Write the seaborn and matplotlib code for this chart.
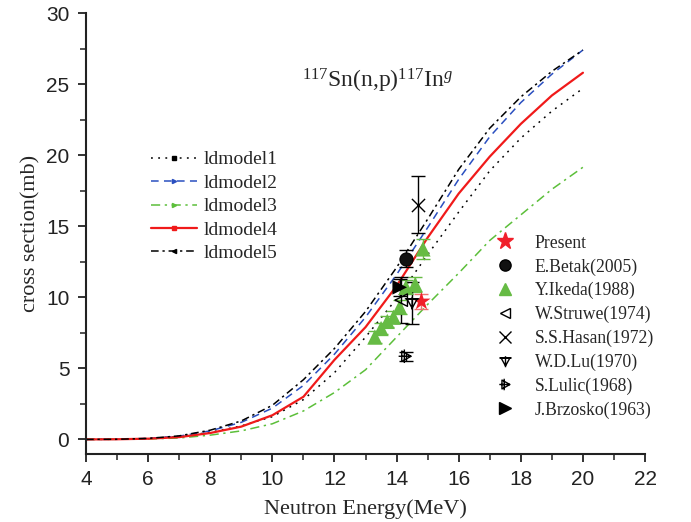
import numpy as np
import pandas as pd
import seaborn as sns
import matplotlib
matplotlib.use("Agg")
import matplotlib.pyplot as plt
from matplotlib.lines import Line2D
from matplotlib.path import Path

# ---------------- data ----------------
energy = [4, 5, 6, 7, 8, 9, 10, 11, 12, 13, 14, 15, 16, 17, 18, 19, 20]
ldmodel1 = [0, 0.01, 0.06, 0.2, 0.5, 0.95, 1.6, 2.8, 4.7, 7.2, 9.9, 13.0, 16.0, 18.9, 21.2, 23.1, 24.7]
ldmodel2 = [0, 0.01, 0.07, 0.23, 0.6, 1.2, 2.2, 3.8, 6.0, 8.6, 11.6, 14.9, 18.3, 21.3, 23.7, 25.7, 27.4]
ldmodel3 = [0, 0.01, 0.03, 0.1, 0.3, 0.6, 1.1, 2.0, 3.3, 4.9, 7.2, 9.5, 11.7, 14.0, 15.8, 17.6, 19.15]
ldmodel4 = [0, 0.01, 0.05, 0.16, 0.45, 0.9, 1.7, 3.0, 5.6, 7.9, 10.8, 14.2, 17.3, 19.9, 22.2, 24.2, 25.8]
ldmodel5 = [0, 0.01, 0.07, 0.25, 0.65, 1.3, 2.4, 4.2, 6.4, 9.0, 12.1, 15.5, 19.0, 21.9, 24.1, 25.9, 27.4]
model_names = ["ldmodel1", "ldmodel2", "ldmodel3", "ldmodel4", "ldmodel5"]

present_e = [14.8]; present_s = [9.7]; present_err = [0.5]
betak_e = [14.3]; betak_s = [12.7]; betak_err = [0.6]
ikeda_e = [13.3, 13.5, 13.7, 13.9, 14.1, 14.3, 14.6, 14.85]
ikeda_s = [7.2, 7.8, 8.3, 8.6, 9.3, 10.7, 10.9, 13.4]
ikeda_err = [0.4, 0.4, 0.4, 0.4, 0.5, 0.5, 0.5, 0.7]
struwe_e = [14.15]; struwe_s = [9.8]; struwe_err = [1.6]
hasan_e = [14.7]; hasan_s = [16.5]; hasan_err = [2.0]
lu_e = [14.5]; lu_s = [9.6]; lu_err = [1.5]
lulic_e = [14.3]; lulic_s = [5.85]; lulic_err = [0.3]
brzosko_e = [14.1]; brzosko_s = [10.7]; brzosko_err = [0.6]

xticks = [4, 6, 8, 10, 12, 14, 16, 18, 20, 22]
yticks = [0, 5, 10, 15, 20, 25, 30]

# ---------------- style ----------------
sns.set_theme(style="ticks")
plt.rcParams["font.family"] = ["Liberation Serif", "DejaVu Serif"]
plt.rcParams["mathtext.fontset"] = "custom"
plt.rcParams["mathtext.rm"] = "Liberation Serif"
plt.rcParams["mathtext.it"] = "Liberation Serif:italic"

fig = plt.figure(figsize=(6.91, 5.22), dpi=100)
ax = fig.add_axes([0.1245, 0.131, 0.809, 0.844])

model_styles = {
    "ldmodel1": dict(color="black", dashes=(1.2, 3.5), lw=1.1),
    "ldmodel2": dict(color="#2a4fc0", dashes=(5, 3.5), lw=1.1),
    "ldmodel3": dict(color="#5cbf3a", dashes=(6, 3, 1.5, 3), lw=1.1),
    "ldmodel4": dict(color="#f01a1a", dashes=None, lw=1.6),
    "ldmodel5": dict(color="black", dashes=(5, 2.5, 1.5, 2.5), lw=1.1),
}
model_vals = [ldmodel1, ldmodel2, ldmodel3, ldmodel4, ldmodel5]
for name, vals in zip(model_names, model_vals):
    st = model_styles[name]
    df = pd.DataFrame({"E": energy, "s": vals})
    sns.lineplot(data=df, x="E", y="s", ax=ax, color=st["color"], lw=st["lw"],
                 legend=False, zorder=2)
    ln = ax.lines[-1]
    if st["dashes"] is not None:
        ln.set_dashes(st["dashes"])

# custom marker paths
lu_path = Path(
    [(-1, 0.8), (1, 0.8), (0, -1), (-1, 0.8), (-1.4, 0.8), (1.4, 0.8), (0, 1.2), (0, -1.3)],
    [Path.MOVETO, Path.LINETO, Path.LINETO, Path.CLOSEPOLY, Path.MOVETO, Path.LINETO, Path.MOVETO, Path.LINETO])
lulic_path = Path(
    [(-0.8, 1), (-0.8, -1), (1, 0), (-0.8, 1), (-1.4, 0), (1.0, 0), (-0.3, 1.3), (-0.3, -1.3)],
    [Path.MOVETO, Path.LINETO, Path.LINETO, Path.CLOSEPOLY, Path.MOVETO, Path.LINETO, Path.MOVETO, Path.LINETO])

exp_sets = [
    ("Present", present_e, present_s, present_err, dict(marker="*", s=190, color="#f0202a", edgecolor="none"), "#f07070"),
    ("E.Betak(2005)", betak_e, betak_s, betak_err, dict(marker="o", s=90, color="#111111", edgecolor="black"), "black"),
    ("Y.Ikeda(1988)", ikeda_e, ikeda_s, ikeda_err, dict(marker="^", s=120, color="#66bb44", edgecolor="none"), "#66bb44"),
    ("W.Struwe(1974)", struwe_e, struwe_s, struwe_err, dict(marker="<", s=80, facecolor="none", edgecolor="black", linewidth=1.0), "black"),
    ("S.S.Hasan(1972)", hasan_e, hasan_s, hasan_err, dict(marker="x", s=90, color="black", linewidth=1.0), "black"),
    ("W.D.Lu(1970)", lu_e, lu_s, lu_err, dict(marker=lu_path, s=110, facecolor="none", edgecolor="black", linewidth=1.0), "black"),
    ("S.Lulic(1968)", lulic_e, lulic_s, lulic_err, dict(marker=lulic_path, s=110, facecolor="none", edgecolor="black", linewidth=1.0), "black"),
    ("J.Brzosko(1963)", brzosko_e, brzosko_s, brzosko_err, dict(marker=">", s=110, color="black", edgecolor="none"), "black"),
]
for name, xe, ys, er, kw, ecol in exp_sets:
    ax.errorbar(xe, ys, yerr=er, fmt="none", ecolor=ecol, elinewidth=1.0, capsize=5, capthick=1.0, zorder=3)
    sns.scatterplot(x=xe, y=ys, ax=ax, legend=False, zorder=4, **kw)

# axes
ax.set_xlim(4, 22)
ax.set_ylim(-1, 30)
ax.set_xticks(xticks)
ax.set_yticks(yticks)
ax.set_xticks(np.arange(5, 22, 2), minor=True)
ax.set_yticks(np.arange(2.5, 30, 5), minor=True)
for lab in ax.get_xticklabels() + ax.get_yticklabels():
    lab.set_fontfamily("Liberation Sans")
    lab.set_fontsize(15)
ax.tick_params(which="major", direction="out", length=6, width=1.3, colors="#222222", pad=6)
ax.tick_params(which="minor", direction="out", length=4, width=1.1, colors="#222222")
sns.despine(ax=ax)
for sp in ["left", "bottom"]:
    ax.spines[sp].set_linewidth(1.5)
    ax.spines[sp].set_color("#222222")
ax.set_xlabel("Neutron Energy(MeV)", fontsize=16, labelpad=7)
ax.set_ylabel("cross section(mb)", fontsize=16)

ax.text(0.522, 0.845, r"$^{117}$Sn(n,p)$^{117}$In$^{g}$", transform=ax.transAxes,
        fontsize=17, ha="center", va="center")

# legends
mstyle_leg = {"ldmodel1": "s", "ldmodel2": ">", "ldmodel3": ">", "ldmodel4": "s", "ldmodel5": "<"}
h1 = []
for name in model_names:
    st = model_styles[name]
    l = Line2D([0], [0], color=st["color"], lw=st["lw"], marker=mstyle_leg[name], markersize=3,
               markevery=[1])
    if st["dashes"] is not None:
        l.set_dashes(st["dashes"])
    h1.append(l)
leg1 = ax.legend(h1, model_names, loc="upper left", bbox_to_anchor=(0.085, 0.727), frameon=False,
                 fontsize=14, handlelength=2.35, labelspacing=0.3, handletextpad=0.35)
ax.add_artist(leg1)

h2 = []
for name, xe, ys, er, kw, ecol in exp_sets:
    mk = kw["marker"]
    fc = kw.get("facecolor", kw.get("color"))
    ec = kw.get("edgecolor", kw.get("color"))
    if ec == "none":
        ec = fc
    ms = np.sqrt(kw["s"]) * (0.85 if mk != "*" else 0.9)
    h2.append(Line2D([], [], ls="none", marker=mk, markersize=ms, markerfacecolor=fc,
                     markeredgecolor=ec, markeredgewidth=kw.get("linewidth", 1.0)))
leg2 = ax.legend(h2, [e[0] for e in exp_sets], loc="upper left", bbox_to_anchor=(0.703, 0.533), frameon=False,
                 fontsize=12.7, handlelength=1.2, labelspacing=0.37, handletextpad=1.05)

fig.savefig("out.png", dpi=100)
